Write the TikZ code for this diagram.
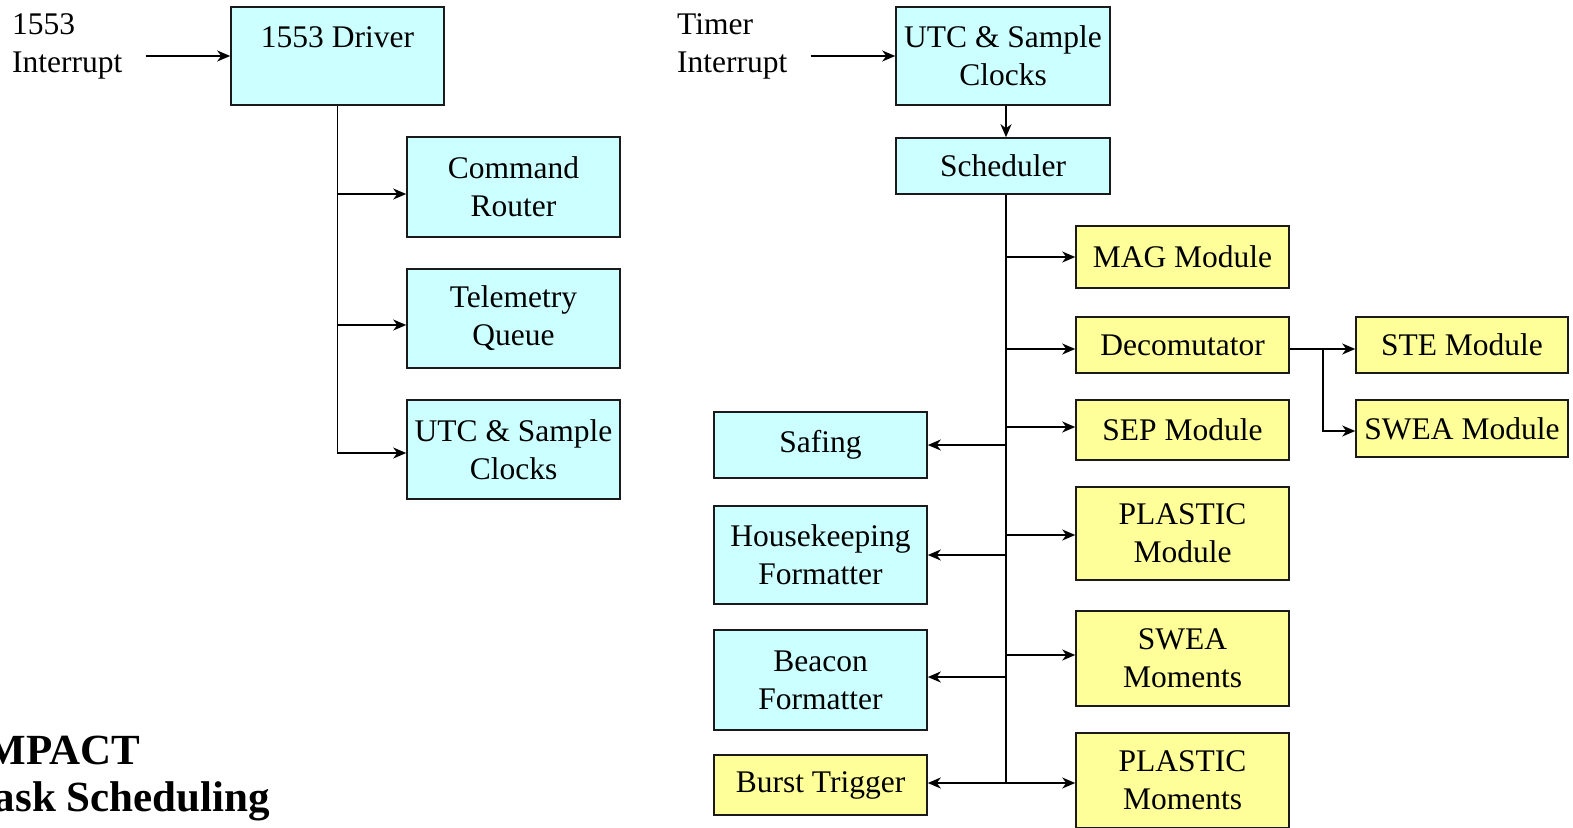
\documentclass[tikz,border=0pt]{standalone}
\usepackage{fontspec}
\setmainfont{Liberation Serif}
\usetikzlibrary{arrows.meta}
\definecolor{boxcyan}{HTML}{CCFFFF}
\definecolor{boxyellow}{HTML}{FFFF99}
\definecolor{edge}{HTML}{1A1A1A}
\begin{document}
\begin{tikzpicture}[x=1pt,y=-1pt,
  every node/.style={inner sep=0pt, font=\fontsize{31.5}{38}\selectfont},
  box/.style={draw=edge, line width=1.6pt, minimum width=213pt, align=center},
  cyanbox/.style={box, fill=boxcyan},
  yellowbox/.style={box, fill=boxyellow},
  link/.style={line width=1.7pt, draw=black},
  arr/.style={link, -{Stealth[length=13pt,width=11pt,inset=4pt]}},
  lbl/.style={align=left, anchor=base west},
  title/.style={align=left, anchor=base west, font=\bfseries\fontsize{43}{47}\selectfont}]
\useasboundingbox (0,0) rectangle (1573,827);

% ---- 1553 bus side ----
\node[lbl] (irq1) at (12,72.5) {1553\\Interrupt};
\node[cyanbox, minimum height=98pt] (drv) at (337.5,56) {1553 Driver\\\phantom{X}};
\node[cyanbox, minimum height=100pt] (cmd) at (513.5,187) {Command\\Router};
\node[cyanbox, minimum height=99pt] (tlm) at (513.5,318.5) {Telemetry\\Queue};
\node[cyanbox, minimum height=99pt] (clkL) at (513.5,449.5) {UTC \& Sample\\Clocks};

\draw[arr] ([xshift=23pt]irq1.east |- drv.west) -- (drv.west);
\coordinate (lt) at (drv.south);
\draw[arr] (lt) |- ([yshift=-3.5pt]clkL.west);
\draw[arr] ([yshift=-7pt]cmd.west -| lt) -- ([yshift=-7pt]cmd.west);
\draw[arr] ([yshift=-6.5pt]tlm.west -| lt) -- ([yshift=-6.5pt]tlm.west);

% ---- timer side ----
\node[lbl] (irq2) at (677,72.5) {Timer\\Interrupt};
\node[cyanbox, minimum height=98pt, minimum width=214pt] (clkR) at (1003,56) {UTC \& Sample\\Clocks};
\node[cyanbox, minimum height=56pt, minimum width=214pt] (sched) at (1003,166) {Scheduler};

\node[yellowbox, minimum height=62pt] (mag) at (1182.5,257) {MAG Module};
\node[yellowbox, minimum height=56pt] (decom) at (1182.5,345) {Decomutator};
\node[yellowbox, minimum height=60pt] (sep) at (1182.5,430) {SEP Module};
\node[yellowbox, minimum height=93pt] (plmod) at (1182.5,533.5) {PLASTIC\\Module};
\node[yellowbox, minimum height=95pt] (swmom) at (1182.5,658.5) {SWEA\\Moments};
\node[yellowbox, minimum height=95pt] (plmom) at (1182.5,780.5) {PLASTIC\\Moments};

\node[cyanbox, minimum height=66pt] (saf) at (820.5,445) {Safing};
\node[cyanbox, minimum height=98pt] (hk) at (820.5,555) {Housekeeping\\Formatter};
\node[cyanbox, minimum height=100pt] (bcn) at (820.5,680) {Beacon\\Formatter};
\node[yellowbox, minimum height=60pt] (bst) at (820.5,785) {Burst Trigger};

\node[yellowbox, minimum height=56pt, minimum width=212pt] (ste) at (1462,345) {STE Module};
\node[yellowbox, minimum height=57pt, minimum width=212pt] (swmod) at (1462,428.5) {SWEA Module};

\draw[arr] ([xshift=23pt]irq2.east |- clkR.west) -- (clkR.west);
\draw[arr] ([xshift=3pt]clkR.south) -- ([xshift=3pt]sched.north);

\coordinate (rt) at ([xshift=3pt]sched.south);
\coordinate (rb) at ([yshift=-2.5pt]plmom.west -| rt);
\draw[link] (rt) -- (rb);
\draw[arr] (mag.west -| rt) -- (mag.west);
\draw[arr] ([yshift=-4pt]decom.west -| rt) -- ([yshift=-4pt]decom.west);
\draw[arr] ([yshift=3pt]sep.west -| rt) -- ([yshift=3pt]sep.west);
\draw[arr] ([yshift=-1.5pt]plmod.west -| rt) -- ([yshift=-1.5pt]plmod.west);
\draw[arr] ([yshift=3.5pt]swmom.west -| rt) -- ([yshift=3.5pt]swmom.west);
\draw[arr] (rb) -- (plmom.west |- rb);
\draw[arr] (saf.east -| rt) -- (saf.east);
\draw[arr] (hk.east -| rt) -- (hk.east);
\draw[arr] ([yshift=3pt]bcn.east -| rt) -- ([yshift=3pt]bcn.east);
\draw[arr] (rb) -- (bst.east |- rb);

\coordinate (db) at ([xshift=33pt,yshift=-4pt]decom.east);
\draw[arr] ([yshift=-4pt]decom.east) -- (ste.west |- db);
\draw[arr] (db) |- ([yshift=-2.5pt]swmod.west);

% ---- title ----
\node[title] (ttl) at (-31,811) {IMPACT\\Task Scheduling};
\end{tikzpicture}
\end{document}
